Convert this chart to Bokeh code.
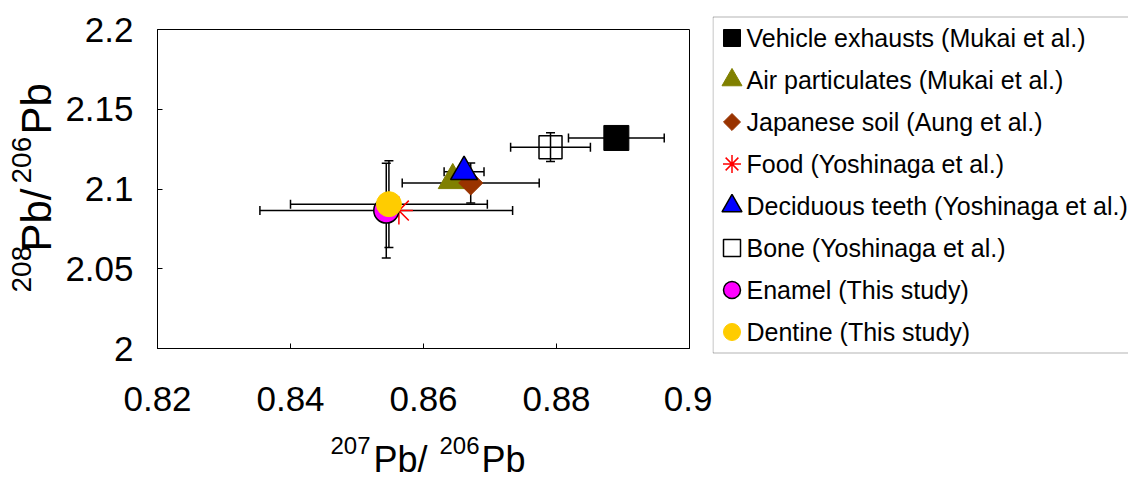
import math
from bokeh.plotting import figure
from bokeh.layouts import row, column
from bokeh.models import (ColumnDataSource, Whisker, TeeHead, FixedTicker, Range1d,
                          Label, BoxAnnotation)
from bokeh.core.properties import value
from bokeh.embed import file_html
from bokeh.resources import INLINE

# ---------------- data ----------------
series = [
    "Vehicle exhausts (Mukai et al.)",
    "Air particulates (Mukai et al.)",
    "Japanese soil (Aung et al.)",
    "Food (Yoshinaga et al.)",
    "Deciduous teeth (Yoshinaga et al.)",
    "Bone (Yoshinaga et al.)",
    "Enamel (This study)",
    "Dentine (This study)",
]
pb207_206 = [0.8890, 0.8644, 0.8671, 0.8563, 0.8661, 0.8791, 0.8544, 0.8548]
pb208_206 = [2.1320, 2.1055, 2.1038, 2.0865, 2.1108, 2.1262, 2.0865, 2.0905]
x_err = [0.0072, 0.0, 0.0103, 0.0, 0.0030, 0.0060, 0.0190, 0.0148]
y_err = [0.0, 0.0, 0.0125, 0.0, 0.0, 0.0090, 0.0297, 0.0272]

x_ticks = [0.82, 0.84, 0.86, 0.88, 0.90]
x_tick_labels = ["0.82", "0.84", "0.86", "0.88", "0.9"]
y_ticks = [2.0, 2.05, 2.1, 2.15, 2.2]
y_tick_labels = ["2", "2.05", "2.1", "2.15", "2.2"]

x_title = [("207", True), ("Pb/", False), ("206", True), ("Pb", False)]
y_title = [("208", True), ("Pb/", False), ("206", True), ("Pb", False)]

# ---------------- styles ----------------
styles = [
    dict(marker="square", size=25, lsize=17, fill_color="black", line_color="black", line_width=1, angle=0),
    dict(marker="triangle", size=29, lsize=20, fill_color="#808000", line_color="#808000", line_width=1, angle=0),
    dict(marker="square", size=17, lsize=12, fill_color="#993300", line_color="#993300", line_width=1, angle=math.pi / 4),
    dict(marker="asterisk", size=28, lsize=18, fill_color="#FF0000", line_color="#FF0000", line_width=1.5, angle=0),
    dict(marker="triangle", size=27, lsize=20, fill_color="#0000FF", line_color="black", line_width=1.5, angle=0),
    dict(marker="square", size=23, lsize=17, fill_color=None, line_color="black", line_width=1.5, angle=0),
    dict(marker="circle", size=25, lsize=17, fill_color="#FF00FF", line_color="black", line_width=1.5, angle=0),
    dict(marker="circle", size=25, lsize=17, fill_color="#FFCC00", line_color="#FFCC00", line_width=1, angle=0),
]

FONT = "Liberation Sans"
TOTAL_W, TOTAL_H = 1128, 481
YT_W = 60                      # y-title strip
MAIN_W, MAIN_H = 712 - YT_W, 430
LEG_W = TOTAL_W - YT_W - MAIN_W
XT_H = TOTAL_H - MAIN_H
F_L, F_R, F_T, F_B = 157, 689, 29, 348   # plot frame in chart pixels


def blank(width, height, xr, yr, left=0, right=0):
    f = figure(width=width, height=height, x_range=Range1d(*xr), y_range=Range1d(*yr),
               output_backend="svg", toolbar_location=None,
               x_axis_location=None, y_axis_location=None,
               min_border_left=left, min_border_right=right,
               min_border_top=0, min_border_bottom=0)
    f.outline_line_color = None
    f.grid.visible = False
    f.background_fill_color = "white"
    f.border_fill_color = "white"
    return f


# ---------------- main plot ----------------
p = figure(width=MAIN_W, height=MAIN_H,
           x_range=Range1d(x_ticks[0], x_ticks[-1]),
           y_range=Range1d(y_ticks[0], y_ticks[-1]),
           output_backend="svg", toolbar_location=None,
           min_border_left=F_L - YT_W, min_border_right=YT_W + MAIN_W - F_R,
           min_border_top=F_T, min_border_bottom=MAIN_H - F_B)
p.background_fill_color = "white"
p.border_fill_color = "white"
p.outline_line_color = "black"
p.outline_line_width = 1
p.grid.visible = False

for ax in (p.xaxis[0], p.yaxis[0]):
    ax.axis_line_color = "black"
    ax.major_tick_line_color = "black"
    ax.major_tick_in = 5
    ax.major_tick_out = 0
    ax.minor_tick_line_color = None
    ax.major_label_text_font = FONT
    ax.major_label_text_font_size = "35px"
    ax.major_label_text_color = "black"

p.xaxis[0].ticker = FixedTicker(ticks=x_ticks)
p.xaxis[0].major_label_overrides = {t: l for t, l in zip(x_ticks, x_tick_labels)}
p.xaxis[0].major_label_standoff = 38
p.yaxis[0].ticker = FixedTicker(ticks=y_ticks)
p.yaxis[0].major_label_overrides = {t: l for t, l in zip(y_ticks, y_tick_labels)}
p.yaxis[0].major_label_standoff = 24


def whisker(base, lo, hi, dim):
    src = ColumnDataSource(dict(base=base, lower=lo, upper=hi))
    w = Whisker(source=src, base="base", lower="lower", upper="upper",
                dimension=dim, line_color="black", line_width=1.5,
                upper_head=TeeHead(size=9, line_color="black", line_width=1.5),
                lower_head=TeeHead(size=9, line_color="black", line_width=1.5))
    p.add_layout(w)


xb, xl, xu = [], [], []
yb, yl, yu = [], [], []
for x, y, ex, ey in zip(pb207_206, pb208_206, x_err, y_err):
    if ex > 0:
        xb.append(y); xl.append(x - ex); xu.append(x + ex)
    if ey > 0:
        yb.append(x); yl.append(y - ey); yu.append(y + ey)
whisker(xb, xl, xu, "width")
whisker(yb, yl, yu, "height")

for name, x, y, st in zip(series, pb207_206, pb208_206, styles):
    src = ColumnDataSource(dict(x=[x], y=[y]))
    p.scatter("x", "y", source=src, marker=st["marker"], size=st["size"],
              angle=st["angle"], fill_color=st["fill_color"],
              line_color=st["line_color"], line_width=st["line_width"])

# ---------------- x title strip (chart pixel coordinates, frame aligned with plot) ----
xt = blank(MAIN_W, XT_H, (F_L, F_R), (TOTAL_H, MAIN_H),
           left=F_L - YT_W, right=YT_W + MAIN_W - F_R)
x_pos = [330, 373, 439, 481]
for (txt, sup), xp in zip(x_title, x_pos):
    xt.add_layout(Label(x=xp, y=445 if sup else 459, text=txt, text_font=FONT,
                        text_font_size="24px" if sup else "36px", text_color="black",
                        text_align="left", text_baseline="middle"))

# ---------------- y title strip ----------------
yt = blank(YT_W, TOTAL_H, (0, YT_W), (TOTAL_H, 0))
y_pos = [292, 251, 183, 134]
for (txt, sup), yp in zip(y_title, y_pos):
    yt.add_layout(Label(x=21 if sup else 36, y=yp, text=txt, text_font=FONT,
                        text_font_size="28px" if sup else "42px", text_color="black",
                        text_align="left", text_baseline="middle",
                        angle=math.pi / 2))

# ---------------- legend strip ----------------
lg = blank(LEG_W, TOTAL_H, (YT_W + MAIN_W, TOTAL_W), (TOTAL_H, 0))
lg.add_layout(BoxAnnotation(left=712.5, right=1300, top=16.5, bottom=352.5,
                            fill_alpha=0, line_color="black", line_width=1,
                            level="underlay"))
row_y = [37.5 + 42 * i for i in range(len(series))]
for name, yy, st in zip(series, row_y, styles):
    lg.scatter([731.5], [yy], marker=st["marker"], size=st["lsize"], angle=st["angle"],
               fill_color=st["fill_color"], line_color=st["line_color"],
               line_width=st["line_width"])
lg.text(x=[746] * len(series), y=row_y, text=series,
        text_font=value(FONT), text_font_size=value("25px"), text_color="black",
        text_align="left", text_baseline="middle")

layout = row(yt, column(p, xt), lg)

open("out.html", "w").write(file_html(layout, INLINE))
